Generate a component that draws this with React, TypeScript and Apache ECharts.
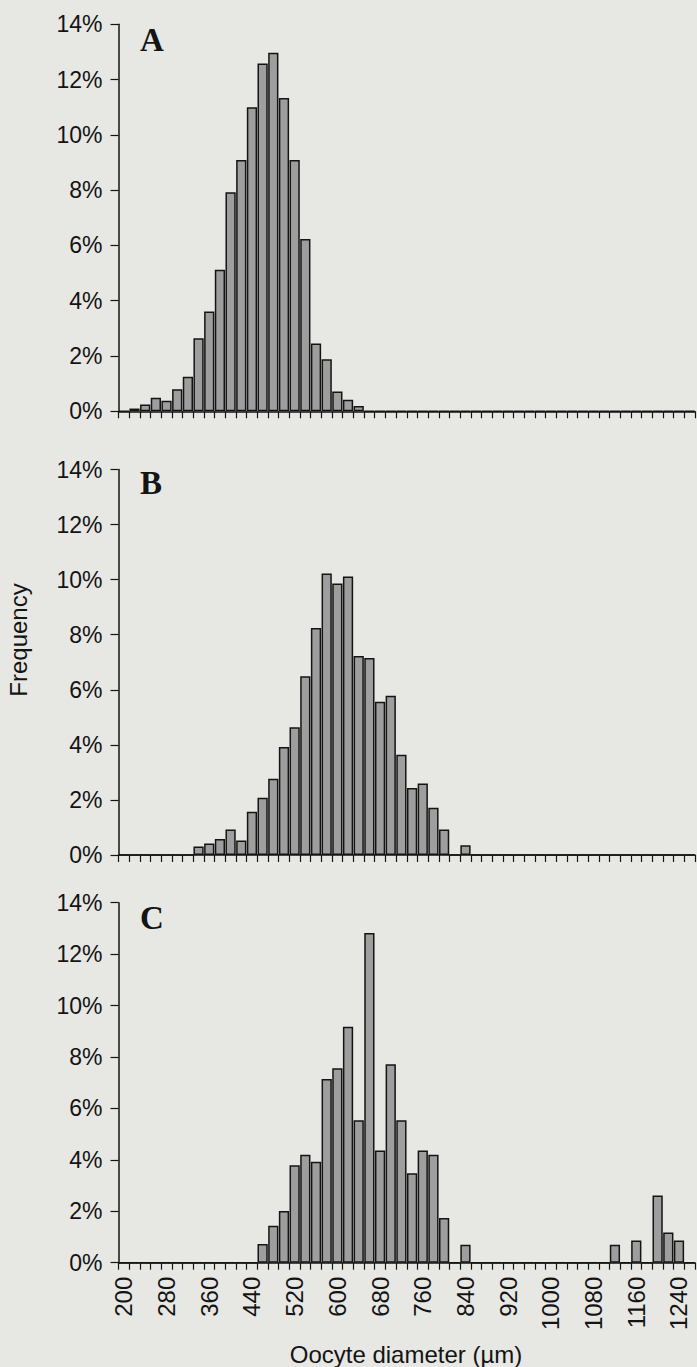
import React, { useEffect, useRef } from "react";
import * as echarts from "echarts";

// Oocyte diameter classes (µm), 20 µm bins
const diameters = [
  "200", "220", "240", "260", "280", "300", "320", "340", "360", "380",
  "400", "420", "440", "460", "480", "500", "520", "540", "560", "580",
  "600", "620", "640", "660", "680", "700", "720", "740", "760", "780",
  "800", "820", "840", "860", "880", "900", "920", "940", "960", "980",
  "1000", "1020", "1040", "1060", "1080", "1100", "1120", "1140", "1160", "1180",
  "1200", "1220", "1240", "1260",
];

// Frequency (%) per class, panel A
const freqA = [
  0, 0.1, 0.25, 0.49, 0.38, 0.8, 1.25, 2.64, 3.61, 5.12,
  7.92, 9.09, 11.0, 12.58, 12.97, 11.33, 9.09, 6.23, 2.45, 1.88,
  0.72, 0.42, 0.19, 0, 0, 0, 0, 0, 0, 0,
  0, 0, 0, 0, 0, 0, 0, 0, 0, 0,
  0, 0, 0, 0, 0, 0, 0, 0, 0, 0,
  0, 0, 0, 0,
];

// Frequency (%) per class, panel B
const freqB = [
  0, 0, 0, 0, 0, 0, 0, 0.31, 0.42, 0.58,
  0.93, 0.53, 1.57, 2.08, 2.77, 3.92, 4.64, 6.49, 8.24, 10.22,
  9.86, 10.11, 7.23, 7.15, 5.57, 5.78, 3.64, 2.43, 2.6, 1.72,
  0.93, 0, 0.35, 0, 0, 0, 0, 0, 0, 0,
  0, 0, 0, 0, 0, 0, 0, 0, 0, 0,
  0, 0, 0, 0,
];

// Frequency (%) per class, panel C
const freqC = [
  0, 0, 0, 0, 0, 0, 0, 0, 0, 0,
  0, 0, 0, 0.73, 1.44, 2.01, 3.79, 4.2, 3.93, 7.14,
  7.56, 9.18, 5.54, 12.82, 4.36, 7.72, 5.54, 3.48, 4.36, 4.2,
  1.74, 0, 0.7, 0, 0, 0, 0, 0, 0, 0,
  0, 0, 0, 0, 0, 0, 0.7, 0, 0.86, 0,
  2.61, 1.17, 0.86, 0,
];

const panelLabels = ["A", "B", "C"];
const yTicks = { min: 0, max: 14, interval: 2 };

const INK = "#141414";
const BAR_FILL = "#9e9e9e";
const BG = "#e7e7e4";
const SANS = '"Liberation Sans", Arial, Helvetica, sans-serif';
const SERIF = '"Liberation Serif", "Times New Roman", serif';

const grids = [
  { left: 118.5, right: 2, top: 24.3, height: 387 },
  { left: 118.5, right: 2, top: 469.5, height: 385.5 },
  { left: 118.5, right: 2, top: 902.7, height: 360 },
];

export default function App() {
  const ref = useRef<HTMLDivElement>(null);

  useEffect(() => {
    if (!ref.current) return;
    const chart = echarts.init(ref.current, undefined, { renderer: "svg" });
    const series = [freqA, freqB, freqC];

    const xAxes = grids.map((_, i) => ({
      type: "category",
      gridIndex: i,
      data: diameters,
      boundaryGap: true,
      axisLine: { show: true, lineStyle: { color: INK, width: 1.5 } },
      axisTick: {
        show: true,
        interval: 0,
        alignWithLabel: false,
        length: 7,
        lineStyle: { color: INK, width: 1.2 },
      },
      axisLabel: {
        show: i === 2,
        interval: 3,
        rotate: 90,
        margin: 14,
        fontSize: 24,
        fontFamily: SANS,
        color: INK,
      },
      splitLine: { show: false },
    }));

    const yAxes = grids.map((_, i) => ({
      type: "value",
      gridIndex: i,
      min: yTicks.min,
      max: yTicks.max,
      interval: yTicks.interval,
      axisLine: { show: true, lineStyle: { color: INK, width: 1.5 } },
      axisTick: { show: true, length: 8, lineStyle: { color: INK, width: 1.2 } },
      axisLabel: {
        formatter: "{value}%",
        margin: 16,
        fontSize: 23,
        fontFamily: SANS,
        color: INK,
      },
      splitLine: { show: false },
    }));

    const letterCenters = [39.5, 483, 918.3];

    chart.setOption({
      animation: false,
      backgroundColor: BG,
      grid: grids,
      xAxis: xAxes,
      yAxis: yAxes,
      series: series.map((d, i) => ({
        type: "bar",
        xAxisIndex: i,
        yAxisIndex: i,
        data: d,
        barCategoryGap: "4%",
        itemStyle: { color: BAR_FILL, borderColor: INK, borderWidth: 1.5 },
      })),
      graphic: [
        ...panelLabels.map((t, i) => ({
          type: "text",
          x: 140,
          y: letterCenters[i],
          style: {
            text: t,
            font: `bold 33px ${SERIF}`,
            fill: INK,
            verticalAlign: "middle",
            align: "left",
          },
        })),
        {
          type: "text",
          x: 18,
          y: 640,
          rotation: Math.PI / 2,
          style: {
            text: "Frequency",
            font: `24px ${SANS}`,
            fill: INK,
            align: "center",
            verticalAlign: "middle",
          },
        },
        {
          type: "text",
          x: 406,
          y: 1354,
          style: {
            text: "Oocyte diameter (µm)",
            font: `24px ${SANS}`,
            fill: INK,
            align: "center",
            verticalAlign: "middle",
          },
        },
      ],
    });

    return () => chart.dispose();
  }, []);

  return (
    <div
      ref={ref}
      style={{ position: "absolute", left: 0, top: 0, width: 697, height: 1367 }}
    />
  );
}
